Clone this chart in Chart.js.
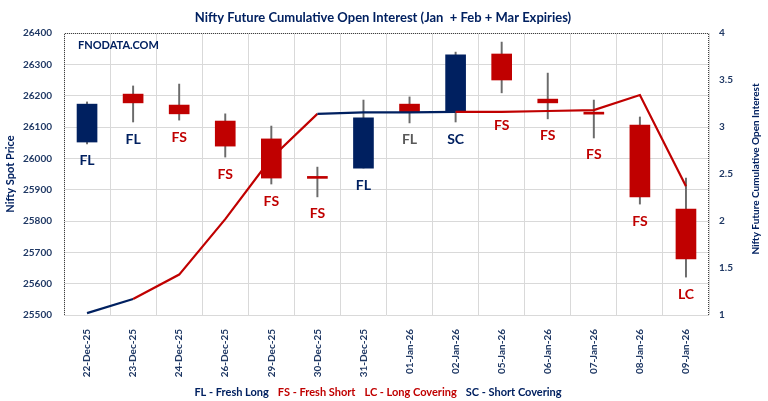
<!DOCTYPE html>
<html>
<head>
<meta charset="utf-8">
<script src="https://cdn.jsdelivr.net/npm/chart.js@4.4.1/dist/chart.umd.min.js"></script>
<style>
  html, body { margin: 0; padding: 0; background: #fff; }
  #wrap { width: 768px; height: 401px; }
</style>
</head>
<body>
<div id="wrap"><canvas id="oiChart" width="768" height="401"></canvas></div>
<script>
const dates = ["22-Dec-25","23-Dec-25","24-Dec-25","26-Dec-25","29-Dec-25","30-Dec-25","31-Dec-25",
               "01-Jan-26","02-Jan-26","05-Jan-26","06-Jan-26","07-Jan-26","08-Jan-26","09-Jan-26"];
const openPrice  = [26052, 26205, 26170, 26119, 26062, 25938, 25969, 26173, 26151, 26333, 26189, 26143, 26106, 25838];
const closePrice = [26173, 26177, 26142, 26039, 25937, 25936, 26129, 26148, 26330, 26250, 26177, 26141, 25877, 25679];
const highPrice  = [26180, 26231, 26237, 26142, 26103, 25972, 26186, 26196, 26339, 26371, 26272, 26186, 26132, 25937];
const lowPrice   = [26046, 26116, 26122, 26004, 25918, 25877, 25969, 26113, 26116, 26209, 26126, 26065, 25854, 25621];
const cumOI      = [1.02, 1.17, 1.43, 2.02, 2.67, 3.14, 3.155, 3.155, 3.16, 3.16, 3.17, 3.18, 3.34, 2.37];
const signals    = ["FL","FL","FS","FS","FS","FS","FL","FL","SC","FS","FS","FS","FS","LC"];
const greyLabelDates = ["01-Jan-26"];
const legendItems = [["FL - Fresh Long","FL"],["FS - Fresh Short","FS"],["LC - Long Covering","LC"],["SC - Short Covering","SC"]];

const NAVY = "#002060";
const RED = "#C00000";
const TICK = "#1F3864";
const FONT = "Lato";

function signalColor(s) {
    return (s === "FL" || s === "SC") ? NAVY : RED;
}

// titles, watermark, candle labels, legend and dotted frame
const decorations = {
    id: "decorations",
    afterDraw(chart) {
        const ctx = chart.ctx;
        const area = chart.chartArea;
        const x = chart.scales.x, y = chart.scales.y, y1 = chart.scales.y1;
        ctx.save();

        // dotted frame
        ctx.strokeStyle = "#404040";
        ctx.lineWidth = 1;
        ctx.setLineDash([1, 1]);
        ctx.beginPath();
        ctx.moveTo(area.left + 0.5, area.bottom);
        ctx.lineTo(area.left + 0.5, area.top + 0.5);
        ctx.lineTo(area.right - 0.5, area.top + 0.5);
        ctx.lineTo(area.right - 0.5, area.bottom);
        ctx.stroke();
        ctx.setLineDash([]);

        // title
        ctx.fillStyle = NAVY;
        ctx.textAlign = "center";
        ctx.textBaseline = "middle";
        ctx.font = "bold 13px " + FONT;
        ctx.fillText("Nifty Future Cumulative Open Interest (Jan  + Feb + Mar Expiries)", 383, 18);

        // watermark
        ctx.textAlign = "left";
        ctx.font = "bold 11px " + FONT;
        ctx.fillText("FNODATA.COM", 78, 45);

        // axis titles
        ctx.font = "bold 11px " + FONT;
        ctx.textAlign = "center";
        ctx.save();
        ctx.translate(10, (area.top + area.bottom) / 2);
        ctx.rotate(-Math.PI / 2);
        ctx.fillText("Nifty Spot Price", 0, 0);
        ctx.restore();
        ctx.font = "bold 10px " + FONT;
        ctx.save();
        ctx.translate(756, (area.top + area.bottom) / 2 - 5);
        ctx.rotate(-Math.PI / 2);
        ctx.fillText("Nifty Future Cumulative Open Interest", 0, 0);
        ctx.restore();

        // candle labels
        ctx.font = "bold 14px " + FONT;
        dates.forEach((d, i) => {
            const cx = x.getPixelForValue(i);
            let ly = y.getPixelForValue(lowPrice[i]) + 17;
            const lineY = y1.getPixelForValue(cumOI[i]);
            if (Math.abs(ly - lineY) < 10) ly = lineY + 14;
            ctx.fillStyle = greyLabelDates.includes(d) ? "#595959" : signalColor(signals[i]);
            ctx.fillText(signals[i], cx, ly);
        });

        // legend
        ctx.font = "bold 11px " + FONT;
        const gap = 9;
        const widths = legendItems.map(it => ctx.measureText(it[0]).width);
        const total = widths.reduce((a, b) => a + b, 0) + gap * (legendItems.length - 1);
        let lx = 378 - total / 2;
        ctx.textAlign = "left";
        legendItems.forEach((it, i) => {
            ctx.fillStyle = signalColor(it[1]);
            ctx.fillText(it[0], lx, 392);
            lx += widths[i] + gap;
        });

        ctx.restore();
    }
};

const ctx = document.getElementById("oiChart").getContext("2d");
const oiChart = new Chart(ctx, {
    type: "bar",
    data: {
        labels: dates,
        datasets: [
            {
                type: "line",
                label: "Cumulative OI",
                data: cumOI,
                yAxisID: "y1",
                order: 0,
                borderColor: RED,
                borderWidth: 2.2,
                pointRadius: 0,
                tension: 0,
                segment: {
                    borderColor: c => signalColor(signals[c.p1DataIndex])
                }
            },
            {
                label: "Body",
                data: dates.map((d, i) => [openPrice[i], closePrice[i]]),
                backgroundColor: dates.map((d, i) => closePrice[i] > openPrice[i] ? NAVY : RED),
                yAxisID: "y",
                order: 1,
                grouped: false,
                barThickness: 20,
                minBarLength: 2
            },
            {
                label: "Wick",
                data: dates.map((d, i) => [lowPrice[i], highPrice[i]]),
                backgroundColor: "#6b6b6b",
                yAxisID: "y",
                order: 2,
                grouped: false,
                barThickness: 1.3
            }
        ]
    },
    options: {
        responsive: false,
        animation: false,
        layout: { padding: { top: 33, left: 0, right: 0, bottom: 0 } },
        plugins: {
            legend: { display: false },
            title: { display: false },
            tooltip: { enabled: false }
        },
        scales: {
            x: {
                offset: true,
                grid: { offset: true, color: "#D9D9D9", drawTicks: false },
                border: { display: false },
                ticks: {
                    color: TICK,
                    font: { family: FONT, weight: "bold", size: 10 },
                    minRotation: 90,
                    maxRotation: 90,
                    padding: 14,
                    autoSkip: false
                },
                afterFit: s => { s.height = 86; }
            },
            y: {
                position: "left",
                min: 25500,
                max: 26400,
                grid: { color: "#D9D9D9", drawTicks: false },
                border: { display: false },
                ticks: {
                    stepSize: 100,
                    color: TICK,
                    padding: 12,
                    font: { family: FONT, weight: "bold", size: 10 },
                    callback: v => String(v)
                },
                afterFit: s => { s.width = 64; }
            },
            y1: {
                position: "right",
                min: 1,
                max: 4,
                grid: { drawOnChartArea: false, drawTicks: false },
                border: { display: false },
                ticks: {
                    stepSize: 0.5,
                    color: TICK,
                    padding: 10,
                    font: { family: FONT, weight: "bold", size: 10 },
                    callback: v => String(v)
                },
                afterFit: s => { s.width = 59; }
            }
        }
    },
    plugins: [decorations]
});
</script>
</body>
</html>
